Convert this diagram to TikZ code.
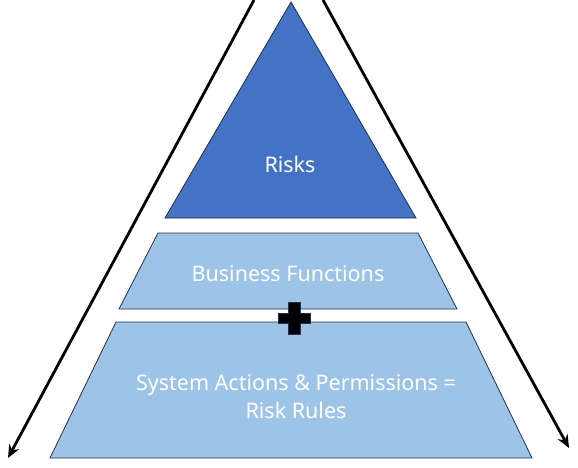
\documentclass[tikz,border=0pt]{standalone}
\usepackage{fontspec}
\setmainfont{Noto Sans}
\usetikzlibrary{arrows.meta}
\definecolor{darkfill}{HTML}{4472C4}
\definecolor{lightfill}{HTML}{9DC3E6}
\definecolor{edgeblue}{HTML}{1F3050}
\begin{document}
\begin{tikzpicture}[x=1pt,y=-1pt,
  layer/.style={draw=edgeblue,line width=0.8pt},
  label/.style={text=white,font=\fontsize{21.5}{28}\selectfont,align=center},
  side/.style={line width=2.8pt,-{Stealth[length=13pt,width=11pt]}}]
\useasboundingbox (0,0) rectangle (578,467);
% side arrows
\coordinate (ltop) at (254,0);
\coordinate (lend) at (8,458);
\coordinate (rtop) at (323,0);
\coordinate (rend) at (569,448);
\draw[side] (ltop) -- (lend);
\draw[side] (rtop) -- (rend);
% layers
\draw[layer,fill=darkfill] (291,2) -- (416,218) -- (165,218) -- cycle;
\draw[layer,fill=lightfill] (158,233) -- (418,233) -- (457,309) -- (119,309) -- cycle;
\draw[layer,fill=lightfill] (116,322) -- (466,322) -- (532,458) -- (50,458) -- cycle;
% labels
\node[label] (risks) at (290,164) {Risks};
\node[label] (bf) at (288,274) {Business Functions};
\node[label] (sys) at (296,397) {System Actions \& Permissions =\\Risk Rules};
% plus
\draw[draw=edgeblue,fill=black,line width=0.6pt] (278,313) -- (288,313) -- (288,302) -- (300,302) -- (300,313) -- (310,313) -- (310,323) -- (300,323) -- (300,334) -- (288,334) -- (288,323) -- (278,323) -- cycle;
\end{tikzpicture}
\end{document}
